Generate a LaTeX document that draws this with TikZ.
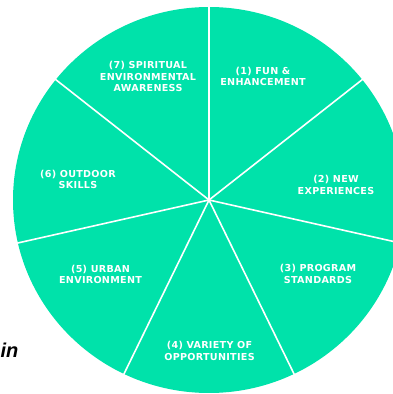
\documentclass[tikz,border=0pt]{standalone}
\usepackage{fontspec}
\setmainfont{Liberation Sans}
\newfontfamily\slicefont[LetterSpace=3]{DejaVu Sans}
\definecolor{mintgreen}{RGB}{0, 226, 170}
\tikzset{
  slicelabel/.style={color=white, align=center, inner sep=0pt,
                     font=\slicefont\bfseries\fontsize{9.6}{11.5}\selectfont},
  divider/.style={color=white, line width=1.6pt}
}

\begin{document}
\begin{tikzpicture}[x=1pt, y=1pt]
            % Frame to fix the page size:
            \useasboundingbox                                          (  0.00,   0.00) rectangle (393.00, 394.00);
            \begin{scope}
            \clip                                                      (  0.00,   0.00) rectangle (393.00, 394.00);
            \fill[mintgreen]                                           (209.00, 194.00) ellipse (196 and 193);
            \coordinate (centre) at                                    (209.00, 194.00);
            % Seven equal slices, clockwise from the top:
            \foreach \k in {0,...,6}{
                \coordinate (rim\k) at ([shift={({90-\k*360/7}:200 and 197)}]centre);
                \draw[divider] (centre) -- (rim\k);
            }
            \end{scope}
            \node[slicelabel] (fun)       at (263.00, 317.50) {(1) FUN \&\\ENHANCEMENT};
            \node[slicelabel] (new)       at (336.00, 209.00) {(2) NEW\\EXPERIENCES};
            \node[slicelabel] (program)   at (318.00, 120.00) {(3) PROGRAM\\STANDARDS};
            \node[slicelabel] (variety)   at (209.50,  43.00) {(4) VARIETY OF\\OPPORTUNITIES};
            \node[slicelabel] (urban)     at (100.50, 119.50) {(5) URBAN\\ENVIRONMENT};
            \node[slicelabel] (outdoor)   at ( 78.00, 214.50) {(6) OUTDOOR\\SKILLS};
            \node[slicelabel] (spiritual) at (148.00, 317.30) {(7) SPIRITUAL\\ENVIRONMENTAL\\AWARENESS};
            % Cut-off word at the left edge:
            \node[anchor=base east, inner sep=0pt, font=\bfseries\itshape\fontsize{20}{24}\selectfont]
                 (cutword) at ( 18.50,  36.00) {in};
\end{tikzpicture}
\end{document}
